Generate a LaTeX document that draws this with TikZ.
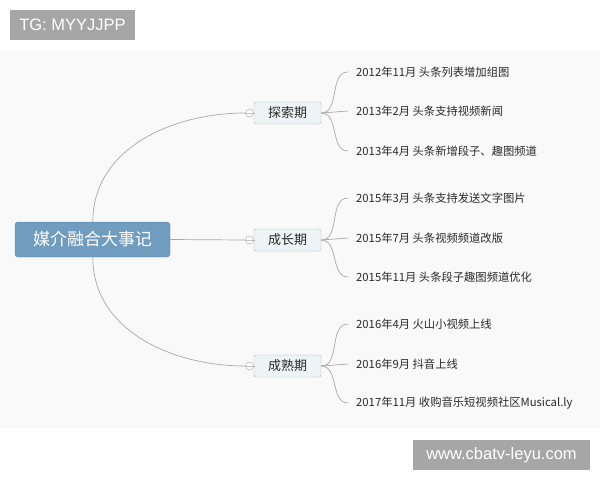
\documentclass[tikz,border=0pt]{standalone}
\usepackage{fontspec}
\newfontfamily\cjk{Noto Sans CJK SC}
\newfontfamily\wmfont{Liberation Sans}
\usepackage{tikz}
\usetikzlibrary{arrows}
\usetikzlibrary{calc}
\definecolor{rootblue}{RGB}{112,156,191}
\definecolor{rootedge}{RGB}{96,138,172}
\definecolor{stagefill}{RGB}{238,243,246}
\definecolor{stageedge}{RGB}{170,180,188}
\definecolor{linkgray}{RGB}{168,168,168}
\definecolor{leaftext}{RGB}{42,42,42}
\definecolor{panelgray}{RGB}{249,249,249}
\definecolor{markgray}{RGB}{166,166,166}

\begin{document}
\begin{tikzpicture}[x=1pt, y=-1pt,
        root/.style={draw=rootedge, fill=rootblue, rounded corners=3pt, text=white,
            minimum width=155pt, minimum height=35pt, font=\cjk\fontsize{17}{17}\selectfont},
        stage/.style={draw=stageedge, fill=stagefill, rounded corners=2pt, text=leaftext,
            minimum width=67pt, minimum height=22pt, font=\cjk\fontsize{13}{13}\selectfont},
        toggle/.style={circle, draw=linkgray, fill=white, inner sep=0pt, minimum size=8pt},
        event/.style={anchor=west, inner sep=0pt, text=leaftext, font=\cjk\fontsize{11.3}{12}\selectfont},
        link/.style={draw=linkgray, line width=0.7pt},
        wmbox/.style={fill=markgray, text=white, inner sep=0pt, font=\wmfont\fontsize{16.5}{16.5}\selectfont}]
        \useasboundingbox (0,0) rectangle (600,480);
        \fill[panelgray] (0,50) rectangle (600,428);
        % watermarks
        \node[wmbox, minimum width=125pt, minimum height=30pt] (tg) at (72.5,25) {TG: MYYJJPP};
        \node[wmbox, minimum width=177pt, minimum height=30pt] (web) at (501.5,455) {www.cbatv-leyu.com};
        % root and stages
        \node[root] (root) at (92.5,239.5) {媒介融合大事记};
        \node[stage] (explore) at (287.5,113) {探索期};
        \node[stage] (grow) at (287.5,240) {成长期};
        \node[stage] (mature) at (287.5,366) {成熟期};
        \node[toggle] (t1) at (249.5,113) {};
        \node[toggle] (t2) at (249.5,240) {};
        \node[toggle] (t3) at (249.5,366) {};
        \draw[link] ($(root.north west)+(78,0)$) to[out=90, in=180] (t1.west);
        \draw[link] (root.east) -- (t2.west);
        \draw[link] ($(root.south west)+(78,0)$) to[out=-90, in=180] (t3.west);
        \foreach \t/\s in {t1/explore, t2/grow, t3/mature} {
            \draw[link] (\t.west) -- (\t.east) -- (\s.west);
        }
        % events
        \node[event] (e1) at (356,72) {2012年11月 头条列表增加组图};
        \node[event] (e2) at (356,111) {2013年2月 头条支持视频新闻};
        \node[event] (e3) at (356,151) {2013年4月 头条新增段子、趣图频道};
        \node[event] (e4) at (356,198) {2015年3月 头条支持发送文字图片};
        \node[event] (e5) at (356,238) {2015年7月 头条视频频道改版};
        \node[event] (e6) at (356,277) {2015年11月 头条段子趣图频道优化};
        \node[event] (e7) at (356,324) {2016年4月 火山小视频上线};
        \node[event] (e8) at (356,364) {2016年9月 抖音上线};
        \node[event] (e9) at (356,403) {2017年11月 收购音乐短视频社区Musical.ly};
        \foreach \s/\a/\b/\c in {explore/e1/e2/e3, grow/e4/e5/e6, mature/e7/e8/e9} {
            \draw[link] (\s.east) to[out=0, in=180] ($(\a.west)+(-8,0)$);
            \draw[link] (\s.east) -- ($(\b.west)+(-8,0)$);
            \draw[link] (\s.east) to[out=0, in=180] ($(\c.west)+(-8,0)$);
        }
\end{tikzpicture}
\end{document}
